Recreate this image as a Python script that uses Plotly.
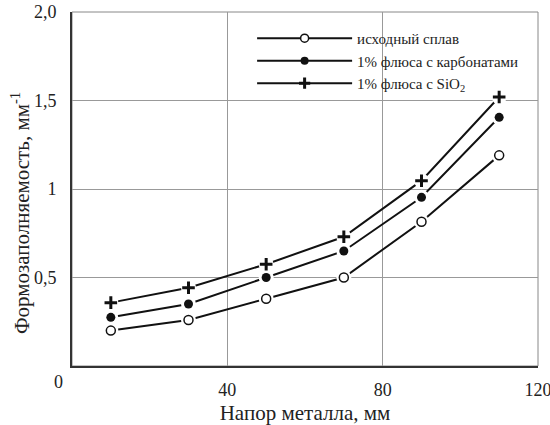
import plotly.graph_objects as go

# Data
x_head = [10, 30, 50, 70, 90, 110]
y_base = [0.20, 0.26, 0.38, 0.50, 0.815, 1.19]
y_carb = [0.275, 0.35, 0.50, 0.65, 0.953, 1.405]
y_sio2 = [0.358, 0.442, 0.575, 0.73, 1.047, 1.52]

series_names = ["исходный сплав", "1% флюса с карбонатами", "1% флюса с SiO<sub>2</sub>"]
y_ticks = [0.5, 1, 1.5, 2.0]
y_tick_text = ["0,5", "1", "1,5", "2,0"]
x_ticks = [40, 80, 120]
x_tick_text = ["40", "80", "120"]
y_title = "Формозаполняемость, мм<sup>-1</sup>"
x_title = "Напор металла, мм"

FONT = "'Liberation Serif', 'Times New Roman', serif"
INK = "#111111"
TXT = "#222222"

styles = [
    dict(symbol="circle", size=9, color="white", line=dict(width=1.5, color=INK)),
    dict(symbol="circle", size=9, color=INK, line=dict(width=0, color=INK)),
    dict(symbol="cross-thin", size=9, color=INK, line=dict(width=3, color=INK)),
]
ys = [y_base, y_carb, y_sio2]

fig = go.Figure()
for yv, st, nm in zip(ys, styles, series_names):
    # line with white halos around points (gap effect)
    fig.add_trace(go.Scatter(
        x=x_head, y=yv, mode="lines+markers",
        line=dict(color=INK, width=2),
        marker=dict(symbol="circle", size=15, color="white", line=dict(width=0)),
        showlegend=False, hoverinfo="skip",
    ))
    fig.add_trace(go.Scatter(
        x=x_head, y=yv, mode="markers",
        marker=dict(symbol=st["symbol"], size=st["size"], color=st["color"], line=st["line"]),
        showlegend=False, name=nm,
    ))

for st, nm in zip(styles, series_names):
    fig.add_trace(go.Scatter(
        x=[None], y=[None], mode="lines+markers", name=nm,
        line=dict(color=INK, width=2),
        marker=dict(symbol=st["symbol"], size=st["size"] - 1, color=st["color"], line=st["line"]),
    ))

fig.update_layout(
    width=550, height=425,
    margin=dict(l=72, r=12, t=12, b=59, autoexpand=False),
    paper_bgcolor="white", plot_bgcolor="white",
    font=dict(family=FONT, color=TXT, size=18),
    showlegend=True,
    legend=dict(
        x=0.3865, y=0.972, xanchor="left", yanchor="top",
        bgcolor="rgba(255,255,255,0)", font=dict(size=15, family=FONT, color=TXT),
        itemwidth=95, tracegroupgap=0,
    ),
    annotations=[
        dict(text="0", xref="paper", yref="paper", x=0, y=0, xshift=-14, yshift=-16,
             xanchor="center", yanchor="middle",
             showarrow=False, font=dict(size=18, family=FONT, color=TXT)),
        dict(text=y_title, xref="paper", yref="paper", x=0, y=0.432, xshift=-52,
             xanchor="center", yanchor="middle", textangle=-90,
             showarrow=False, font=dict(size=21, family=FONT, color=TXT)),
    ],
)

fig.update_xaxes(
    range=[0, 120], tickvals=x_ticks, ticktext=x_tick_text,
    showgrid=True, gridcolor="#999999", gridwidth=1,
    showline=True, linecolor="#333333", linewidth=2, mirror=False,
    ticks="", ticklabelstandoff=6, zeroline=False, automargin=False,
    ticklabeloverflow="allow",
    tickfont=dict(size=18, family=FONT, color=TXT),
    title=dict(text=x_title, font=dict(size=21, family=FONT, color=TXT), standoff=12),
)
fig.update_yaxes(
    range=[0, 2.0], tickvals=y_ticks, ticktext=y_tick_text,
    showgrid=True, gridcolor="#999999", gridwidth=1,
    showline=True, linecolor="#333333", linewidth=2, mirror=False,
    ticks="", ticklabelstandoff=10, zeroline=False, automargin=False,
    ticklabeloverflow="allow",
    tickfont=dict(size=18, family=FONT, color=TXT),
)

# thin grey top/right frame
fig.add_shape(type="rect", xref="paper", yref="paper", x0=0, y0=0, x1=1, y1=1,
              line=dict(color="#888888", width=1), layer="below")

fig.write_html(
    "out.html",
    config={"displayModeBar": False},
    post_script="document.body.style.margin='0px';document.body.style.padding='0px';",
)
